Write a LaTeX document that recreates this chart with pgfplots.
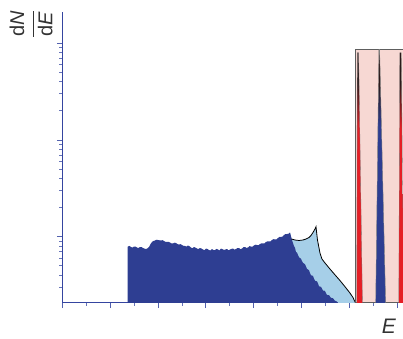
\documentclass[border=0pt]{standalone}
\usepackage{fontspec}
\setmainfont{Liberation Sans}
\usepackage{pgfplots}
\pgfplotsset{compat=1.18}

\definecolor{axblue}{HTML}{3545A0}
\definecolor{dkblue}{HTML}{2E3E92}
\definecolor{ltblue}{HTML}{A6CFE8}
\definecolor{pinkbg}{HTML}{F7D8D3}
\definecolor{spred}{HTML}{E51E25}
\definecolor{spdark}{HTML}{2A1A1A}
\definecolor{boxgray}{HTML}{5E5E5E}

% line shadings: dark at the tip, full colour towards the base
\pgfdeclareverticalshading{redspike}{100bp}{color(0bp)=(spred); color(25bp)=(spred);
  color(60bp)=(spred); color(69bp)=(spdark); color(75bp)=(spdark); color(100bp)=(spdark)}
\pgfdeclareverticalshading{bluespike}{100bp}{color(0bp)=(dkblue); color(25bp)=(dkblue);
  color(60bp)=(dkblue); color(68bp)=(spdark); color(75bp)=(spdark); color(100bp)=(spdark)}

\begin{document}
\begin{tikzpicture}
\path[use as bounding box] (-62.3pt,-35.5pt) rectangle (340.7pt,302.5pt);
\begin{axis}[
  at={(0pt,0pt)}, anchor=south west,
  scale only axis, width=340.7pt, height=290.2pt,
  xmin=0, xmax=711.9, ymin=0.2087, ymax=209.2, ymode=log,
  axis x line*=bottom, axis y line*=left,
  axis line style={-, draw=axblue, line width=1.1pt},
  xtick={0,100,...,700}, minor xtick={50,150,...,650},
  ytick={1,10,100},
  minor ytick={0.3,0.4,0.5,0.6,0.7,0.8,0.9,2,3,4,5,6,7,8,9,20,30,40,50,60,70,80,90},
  xticklabels={}, yticklabels={},
  tick align=outside,
  major tick length=5.5pt, minor tick length=3pt,
  tick style={draw=axblue!85, line width=0.9pt},
  minor tick style={draw=axblue!75, line width=0.8pt},
]
% continuum behind the measured spectrum
\addplot[draw=none, fill=ltblue] coordinates {
  (470,0.2) (475.8,1.1052) (478.9,0.9467) (486.2,0.9244) (494.6,0.9135)
  (502.9,0.9244) (509.2,0.9467) (515.5,0.9811) (519.6,1.0290) (523.8,1.1052)
  (528.0,1.2012) (530.1,1.2690) (533.2,0.9244) (538.4,0.6783) (542.6,0.5880)
  (548.9,0.5345) (559.3,0.4634) (571.9,0.3923) (580.2,0.3524) (590.7,0.3040)
  (601.1,0.2616) (607.4,0.2351) (612.2,0.2087) (612.2,0.2)
} -- cycle;
% measured spectrum
\addplot[draw=none, fill=dkblue] coordinates {
  (136.6,0.2) (136.6,0.7919)
  (137.3,0.7919) (140.4,0.802) (143.5,0.7826) (146.6,0.771) (149.8,0.7919)
  (153.0,0.790) (156.1,0.7733) (159.2,0.764) (162.3,0.7826) (165.5,0.781)
  (168.6,0.7641) (171.7,0.752) (174.9,0.7462) (178.0,0.758) (181.2,0.7826)
  (184.3,0.840) (187.4,0.8815) (190.5,0.905) (193.7,0.9135) (196.8,0.930)
  (200.0,0.9244) (203.1,0.918) (206.2,0.9135) (209.3,0.921) (212.5,0.9027)
  (215.6,0.885) (218.8,0.8815) (221.9,0.884) (225.0,0.8710) (228.1,0.852)
  (231.3,0.8505) (234.4,0.866) (237.6,0.8607) (240.7,0.838) (243.8,0.8305)
  (246.9,0.837) (250.1,0.8207) (253.2,0.804) (256.4,0.8014) (259.5,0.790)
  (262.6,0.8110) (265.7,0.797) (268.9,0.7733) (272.0,0.760) (275.2,0.7826)
  (278.3,0.771) (281.4,0.7551) (284.5,0.746) (287.7,0.7641) (290.8,0.755)
  (294.0,0.7373) (297.1,0.725) (300.2,0.7551) (303.3,0.746) (306.5,0.7286)
  (309.6,0.720) (312.8,0.7462) (315.9,0.728) (319.1,0.7286) (322.2,0.748)
  (325.3,0.7373) (328.4,0.722) (331.6,0.7551) (334.7,0.742) (337.9,0.7286)
  (341.0,0.738) (344.1,0.7462) (347.2,0.724) (350.4,0.7373) (353.5,0.748)
  (356.7,0.7551) (359.8,0.735) (362.9,0.7462) (366.0,0.762) (369.2,0.7641)
  (372.3,0.742) (375.5,0.7551) (378.6,0.780) (381.7,0.7826) (384.8,0.766)
  (388.0,0.7733) (391.1,0.798) (394.3,0.7919) (397.4,0.789) (400.5,0.8110)
  (403.6,0.826) (406.8,0.8207) (409.9,0.816) (413.1,0.8405) (416.2,0.853)
  (419.3,0.8505) (422.4,0.853) (425.6,0.8815) (428.7,0.896) (431.9,0.8920)
  (435.0,0.897) (438.2,0.9244) (441.3,0.944) (444.4,0.9355) (447.5,0.940)
  (450.7,0.9695) (453.8,0.993) (457.0,0.9929) (460.1,1.003) (463.2,1.0413)
  (466.3,1.064) (469.5,1.0664) (472.6,1.073) (475.8,1.1052)
  (479.9,0.9244) (484.1,0.8014) (486.2,0.766) (488.3,0.6947) (490.4,0.684)
  (492.5,0.6466) (494.6,0.612) (496.7,0.6019) (498.8,0.589) (500.8,0.5605)
  (502.9,0.536) (505.0,0.5282) (507.1,0.518) (509.2,0.4918) (511.3,0.464)
  (513.4,0.4578) (515.5,0.449) (517.5,0.4213) (519.6,0.399) (521.7,0.3969)
  (523.8,0.393) (525.9,0.3696) (528.0,0.350) (530.1,0.3482) (532.2,0.345)
  (534.3,0.3281) (536.3,0.307) (538.4,0.3055) (540.5,0.303) (542.6,0.2912)
  (544.7,0.277) (546.8,0.2777) (548.9,0.274) (551.0,0.2616) (553.0,0.250)
  (555.1,0.2494) (557.2,0.249) (559.3,0.2406) (561.4,0.233) (563.5,0.2323)
  (565.6,0.231) (567.7,0.2242) (569.8,0.217) (571.9,0.2163) (576.0,0.2087)
  (576.0,0.2)
} -- cycle;
% outline of the continuum
\addplot[draw=black, line width=0.8pt] coordinates {
  (478.9,0.9467) (486.2,0.9244) (494.6,0.9135)
  (502.9,0.9244) (509.2,0.9467) (515.5,0.9811) (519.6,1.0290) (523.8,1.1052)
  (528.0,1.2012) (530.1,1.2690) (533.2,0.9244) (538.4,0.6783) (542.6,0.5880)
  (548.9,0.5345) (559.3,0.4634) (571.9,0.3923) (580.2,0.3524) (590.7,0.3040)
  (601.1,0.2616) (607.4,0.2351) (612.2,0.2087)
};
% line region
\addplot[draw=boxgray, line width=1.2pt, fill=pinkbg] coordinates {
  (612.2,0.2087) (612.2,86.69) (712.6,86.69) (712.6,0.2087)
} -- cycle;
% discrete lines
\addplot[shade, shading=redspike, draw=spdark!60, line width=0.3pt] coordinates {
  (615.3,0.2) (616.4,79.93) (619.1,79.93) (627.2,0.2)
} -- cycle;
\addplot[shade, shading=bluespike, draw=gray, line width=0.4pt] coordinates {
  (654.8,0.2) (661.6,86.69) (663.0,86.69) (675.7,0.2)
} -- cycle;
\addplot[shade, shading=redspike, draw=spdark!60, line width=0.3pt] coordinates {
  (703.1,0.2) (705.2,79.93) (708.1,79.93) (713.9,0.2)
} -- cycle;
\end{axis}
% axis labels
\node[rotate=90, inner sep=0pt, text=black!80] at (-31.3pt,278.5pt)
  {\fontsize{20}{24}\selectfont$\displaystyle\frac{\hbox{d\textit{N}}}{\hbox{d\textit{E}}}$};
\node[inner sep=0pt, text=black!80] at (326.7pt,-24.0pt)
  {\fontsize{21}{25}\selectfont\textit{E}};
\end{tikzpicture}
\end{document}
